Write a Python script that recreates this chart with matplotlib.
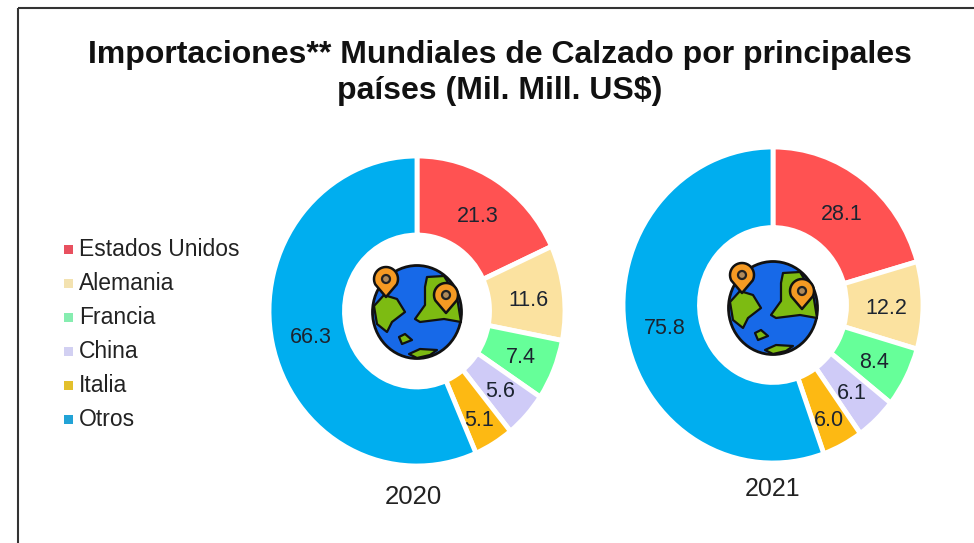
import numpy as np
import matplotlib
matplotlib.use("Agg")
import matplotlib.pyplot as plt
from matplotlib.patches import Rectangle, Ellipse, Polygon

W, H = 974, 543
plt.rcParams['font.family'] = ['Liberation Sans', 'DejaVu Sans']

title_text = "Importaciones** Mundiales de Calzado por principales\npaíses (Mil. Mill. US$)"
categories = ["Estados Unidos", "Alemania", "Francia", "China", "Italia", "Otros"]
colors = ["#FF5252", "#FBE2A0", "#66FF99", "#CFCBF7", "#FDB913", "#00AEEF"]
legend_colors = ["#E8505F", "#F3E2B0", "#86EDB0", "#D2D0F2", "#E3C02C", "#22A3D6"]
values_2020 = [21.3, 11.6, 7.4, 5.6, 5.1, 66.3]
values_2021 = [28.1, 12.2, 8.4, 6.1, 6.0, 75.8]
years = ["2020", "2021"]

fig = plt.figure(figsize=(W / 100, H / 100), dpi=100, facecolor="white")
bg = fig.add_axes([0, 0, 1, 1])
bg.set_xlim(0, W)
bg.set_ylim(H, 0)
bg.axis("off")
bg.plot([18, 18], [560, 8], color="#333333", lw=1.5, solid_capstyle="butt")
bg.plot([18, 980], [8, 8], color="#333333", lw=1.5, solid_capstyle="butt")

bg.text(500, 73, title_text, ha="center", va="center", fontsize=23,
        fontweight="bold", color="#111111", linespacing=1.27)


def donut(values, cx, cy, rx, ry):
    ax = fig.add_axes([(cx - rx) / W, 1 - (cy + ry) / H, 2 * rx / W, 2 * ry / H])
    _, _, autotexts = ax.pie(values, colors=colors, startangle=90, counterclock=False, radius=1,
           autopct=lambda p: f"{p * sum(values) / 100:.1f}", pctdistance=0.745,
           wedgeprops=dict(width=0.51, edgecolor="white", linewidth=3.5),
           textprops=dict(fontsize=15.5, color="#1c2430"))
    for i, t in enumerate(autotexts):
        x, y = t.get_position()
        if i == 4:
            t.set_position((x + 0.03, y - 0.07))
        else:
            t.set_position((x + 0.01, y - 0.02))
    ax.set_aspect("auto")
    ax.set_xlim(-1, 1)
    ax.set_ylim(-1, 1)
    ax.axis("off")


def globe(cx, cy):
    def P(pts):
        return [(cx + x, cy + y) for x, y in pts]

    def blob(pts):
        ov.add_patch(Polygon(P(pts), closed=True, fc="#7DBB12", ec="#111111", lw=1.6,
                             joinstyle="round", zorder=6))

    ov.add_patch(Ellipse((cx, cy), 89, 93, fc="#1769E8", ec="#111111", lw=2, zorder=5))
    blob([(-43, -6), (-33, -17), (-20, -13), (-12, 0), (-25, 10), (-30, 20), (-40, 12)])
    blob([(10, -35), (27, -36), (40, -15), (44, 10), (27, 7), (3, 10), (-2, 7), (8, -7), (8, -25)])
    blob([(-18, 25), (-12, 22), (-5, 28), (-15, 32)])
    blob([(-8, 42), (3, 37), (20, 38), (13, 43), (0, 46)])
    for px, py in [(-31, -15), (29, 1)]:
        hy = py - 18
        t = np.linspace(np.pi * 1.15, -np.pi * 0.15, 30)
        pts = [(px, py)] + [(px + 12 * np.cos(a), hy - 12 * np.sin(a)) for a in t]
        ov.add_patch(Polygon(P(pts), closed=True, fc="#F59A23", ec="#111111", lw=1.8,
                             joinstyle="round", zorder=7))
        ov.add_patch(Ellipse((cx + px, cy + hy), 8, 8, fc="#B08A5A",
                             ec="#222222", lw=1.6, zorder=8))


donut(values_2020, 417, 311, 148, 155)
donut(values_2021, 773, 305, 150, 158)

ov = fig.add_axes([0, 0, 1, 1], facecolor="none")
ov.set_xlim(0, W)
ov.set_ylim(H, 0)
ov.axis("off")
globe(417, 312)
globe(773, 308)

ov.text(413, 497, years[0], ha="center", va="center", fontsize=18.5, color="#222222")
ov.text(773, 489, years[1], ha="center", va="center", fontsize=18, color="#222222")

for i, (name, col) in enumerate(zip(categories, legend_colors)):
    y = 249 + i * 34
    ov.add_patch(Rectangle((64, y - 4.5), 9, 9, fc=col, ec="none"))
    ov.text(79, y, name, ha="left", va="center", fontsize=16.5, color="#222222")

fig.savefig("out.png", dpi=100)
